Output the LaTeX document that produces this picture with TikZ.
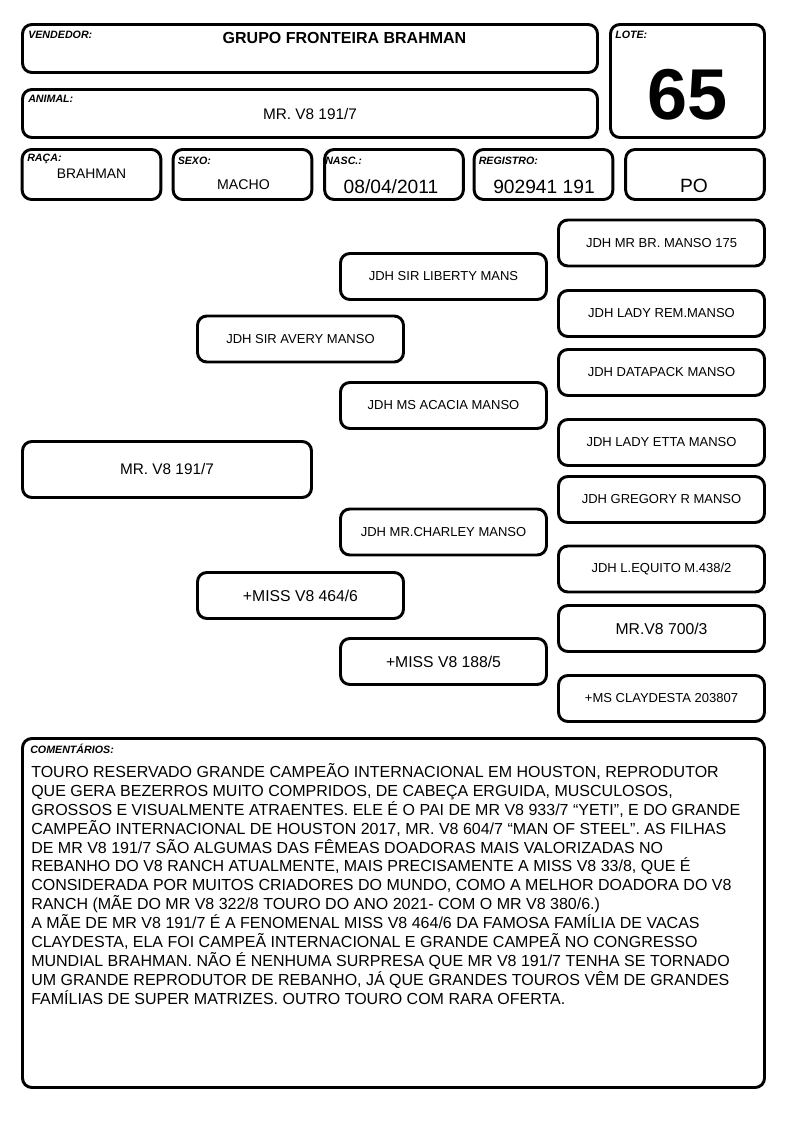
\documentclass[tikz,border=0pt]{standalone}
\usepackage{fontspec}
\setmainfont{Liberation Sans}

\begin{document}
\begin{tikzpicture}[x=0.75pt,y=-0.75pt,
  pbox/.style={draw, line width=2.2pt, rounded corners=7pt, inner sep=0pt},
  lbl/.style={anchor=base west, inner sep=0pt, font=\fontsize{8}{9}\selectfont\bfseries\itshape},
  val/.style={anchor=base, inner sep=0pt},
  cell/.style={pbox, minimum width=104pt, minimum height=37.5pt},
  ped/.style={pbox, minimum width=154.5pt, minimum height=34.5pt, font=\fontsize{9.75}{11}\selectfont},
  pedbig/.style={ped, font=\fontsize{11.8}{13}\selectfont}]
\useasboundingbox (0,0) rectangle (794,1123);

% cabecalho
\node[pbox, minimum width=431.25pt, minimum height=36pt] (vend) at (310,48.5) {};
\node[pbox, minimum width=431.25pt, minimum height=36pt] (animal) at (310,113.5) {};
\node[pbox, minimum width=115.5pt, minimum height=84.75pt] (lote) at (687.5,81) {};
\node[cell] (raca) at (91.5,174.5) {};
\node[cell] (sexo) at (242.5,174.5) {};
\node[cell] (nasc) at (394,174.5) {};
\node[cell] (reg) at (543.5,174.5) {};
\node[cell] (po) at (695,174.5) {};

\node[lbl] (vendlbl) at (28,39) {VENDEDOR:};
\node[lbl] (animallbl) at (28,103) {ANIMAL:};
\node[lbl] (lotelbl) at (615,39) {LOTE:};
\node[lbl] (racalbl) at (27,161.5) {RAÇA:};
\node[lbl] (sexolbl) at (177.5,165) {SEXO:};
\node[lbl] (nasclbl) at (325,165) {NASC.:};
\node[lbl] (reglbl) at (478.5,165) {REGISTRO:};

\node[val, font=\fontsize{12}{14}\selectfont\bfseries] (vendtxt) at (344.5,43.3) {GRUPO FRONTEIRA BRAHMAN};
\node[val, font=\fontsize{11.5}{13}\selectfont] (animaltxt) at (310,119.3) {MR. V8 191/7};
\node[val, font=\fontsize{54}{60}\selectfont\bfseries] (lotetxt) at (687.5,120) {65};
\node[val, font=\fontsize{10.4}{12}\selectfont] (racatxt) at (91.5,178.3) {BRAHMAN};
\node[val, font=\fontsize{10.6}{12}\selectfont] (sexotxt) at (243.5,189.3) {MACHO};
\node[val, font=\fontsize{14.4}{16}\selectfont] (nasctxt) at (391,193.3) {08/04/2011};
\node[val, font=\fontsize{14.4}{16}\selectfont] (regtxt) at (544,193.3) {902941 191};
\node[val, font=\fontsize{14.4}{16}\selectfont] (potxt) at (694,192.7) {PO};

% genealogia
\node[pbox, minimum width=216.75pt, minimum height=42pt, font=\fontsize{11.5}{13}\selectfont] (s) at (167,469.5) {MR. V8 191/7};
\node[ped] (p) at (300.5,339) {JDH SIR AVERY MANSO};
\node[pedbig] (m) at (300.5,595.5) {+MISS V8 464/6};
\node[ped] (pp) at (443.5,276.5) {JDH SIR LIBERTY MANS};
\node[ped] (pm) at (443.5,405.5) {JDH MS ACACIA MANSO};
\node[ped] (mp) at (443.5,532) {JDH MR.CHARLEY MANSO};
\node[pedbig] (mm) at (443.5,661.5) {+MISS V8 188/5};
\node[ped] (ppp) at (661.5,243) {JDH MR BR. MANSO 175};
\node[ped] (ppm) at (661.5,313.5) {JDH LADY REM.MANSO};
\node[ped] (pmp) at (661.5,372.5) {JDH DATAPACK MANSO};
\node[ped] (pmm) at (661.5,442.5) {JDH LADY ETTA MANSO};
\node[ped] (mpp) at (661.5,499.5) {JDH GREGORY R MANSO};
\node[ped] (mpm) at (661.5,569) {JDH L.EQUITO M.438/2};
\node[pedbig] (mmp) at (661.5,628.5) {MR.V8 700/3};
\node[ped] (mmm) at (661.5,698.5) {+MS CLAYDESTA 203807};

% comentarios
\node[pbox, minimum width=556.5pt, minimum height=261.75pt] (coment) at (393.5,913) {};
\node[lbl] (comentlbl) at (30,753) {COMENTÁRIOS:};
\node[anchor=north west, inner sep=0pt, align=left, font=\fontsize{12}{14.2}\selectfont] (comenttxt) at (31,763) {TOURO RESERVADO GRANDE CAMPEÃO INTERNACIONAL EM HOUSTON, REPRODUTOR\\
QUE GERA BEZERROS MUITO COMPRIDOS, DE CABEÇA ERGUIDA, MUSCULOSOS,\\
GROSSOS E VISUALMENTE ATRAENTES. ELE É O PAI DE MR V8 933/7 “YETI”, E DO GRANDE\\
CAMPEÃO INTERNACIONAL DE HOUSTON 2017, MR. V8 604/7 “MAN OF STEEL”. AS FILHAS\\
DE MR V8 191/7 SÃO ALGUMAS DAS FÊMEAS DOADORAS MAIS VALORIZADAS NO\\
REBANHO DO V8 RANCH ATUALMENTE, MAIS PRECISAMENTE A MISS V8 33/8, QUE É\\
CONSIDERADA POR MUITOS CRIADORES DO MUNDO, COMO A MELHOR DOADORA DO V8\\
RANCH (MÃE DO MR V8 322/8 TOURO DO ANO 2021- COM O MR V8 380/6.)\\
A MÃE DE MR V8 191/7 É A FENOMENAL MISS V8 464/6 DA FAMOSA FAMÍLIA DE VACAS\\
CLAYDESTA, ELA FOI CAMPEÃ INTERNACIONAL E GRANDE CAMPEÃ NO CONGRESSO\\
MUNDIAL BRAHMAN. NÃO É NENHUMA SURPRESA QUE MR V8 191/7 TENHA SE TORNADO\\
UM GRANDE REPRODUTOR DE REBANHO, JÁ QUE GRANDES TOUROS VÊM DE GRANDES\\
FAMÍLIAS DE SUPER MATRIZES. OUTRO TOURO COM RARA OFERTA.};

\end{tikzpicture}
\end{document}
